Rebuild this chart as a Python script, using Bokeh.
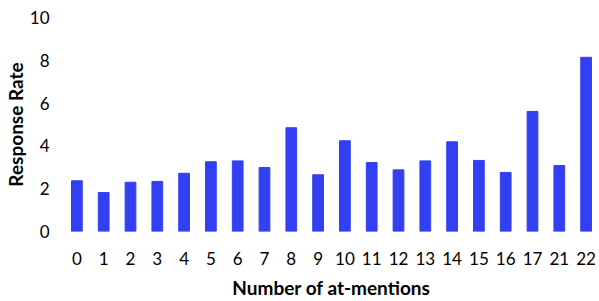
from bokeh.plotting import figure
from bokeh.models import Range1d
from bokeh.embed import file_html
from bokeh.resources import INLINE

categories = ["0", "1", "2", "3", "4", "5", "6", "7", "8", "9", "10",
              "11", "12", "13", "14", "15", "16", "17", "21", "22"]
response_rate = [2.37, 1.82, 2.30, 2.34, 2.72, 3.26, 3.30, 2.99, 4.85, 2.65, 4.24,
                 3.22, 2.88, 3.30, 4.19, 3.32, 2.76, 5.61, 3.08, 8.14]
y_ticks = [0, 2, 4, 6, 8, 10]

FONT = "Lato"

p = figure(x_range=categories, y_range=Range1d(0, 10), width=599, height=301,
           output_backend="svg", toolbar_location=None,
           min_border_top=17, min_border_right=0, min_border_bottom=70, min_border_left=63)

p.vbar(x=categories, top=response_rate, width=0.4, color="#323FF2")

p.outline_line_color = None
p.xgrid.grid_line_color = None
p.ygrid.grid_line_color = None

for ax in (p.xaxis[0], p.yaxis[0]):
    ax.axis_line_color = None
    ax.major_tick_line_color = None
    ax.minor_tick_line_color = None
    ax.major_tick_out = 0
    ax.major_tick_in = 0
    ax.major_label_text_font = FONT
    ax.major_label_text_font_size = "17px"
    ax.major_label_text_color = "#000000"
    ax.axis_label_text_font = FONT
    ax.axis_label_text_font_size = "19px"
    ax.axis_label_text_font_style = "bold"
    ax.axis_label_text_color = "#000000"

p.yaxis.ticker = y_ticks
p.xaxis.axis_label = "Number of at-mentions"
p.yaxis.axis_label = "Response Rate"
p.xaxis.major_label_standoff = 20
p.xaxis.axis_label_standoff = 8
p.yaxis.major_label_standoff = 14
p.yaxis.axis_label_standoff = 0

open("out.html", "w").write(file_html(p, INLINE))
